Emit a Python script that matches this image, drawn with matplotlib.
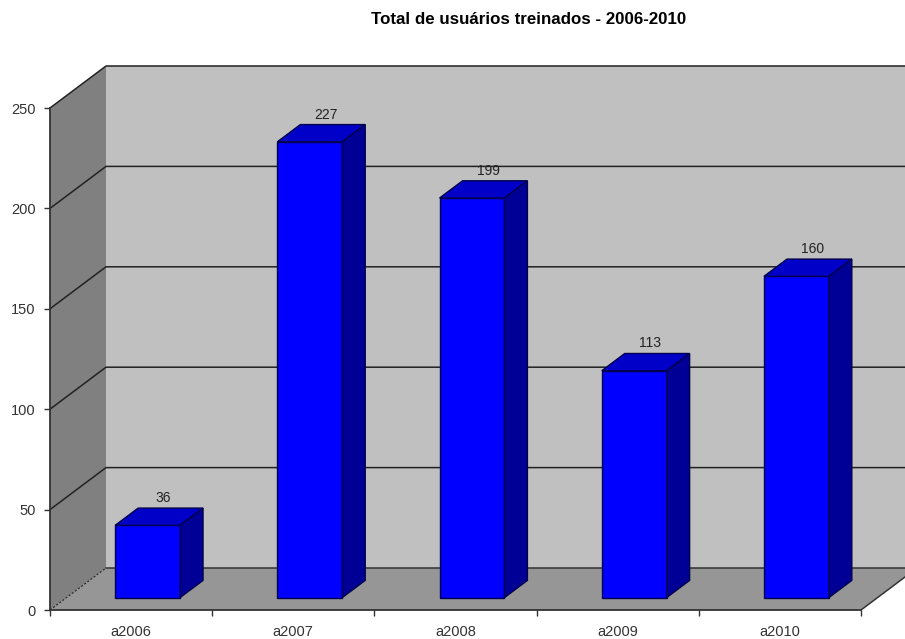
import matplotlib
matplotlib.use("Agg")
import matplotlib.pyplot as plt
from matplotlib.patches import Polygon

plt.rcParams['font.family'] = ['Liberation Sans', 'DejaVu Sans']

categories = ['a2006', 'a2007', 'a2008', 'a2009', 'a2010']
values = [36, 227, 199, 113, 160]
y_ticks = [0, 50, 100, 150, 200, 250]
title = 'Total de usuários treinados - 2006-2010'

W, H = 905, 639

# Front plane of the fake 3D box, in pixels
left, right, bottom, top = 50, 861, 610, 108

fig = plt.figure(figsize=(W / 100, H / 100), dpi=100, facecolor='white')
ax = fig.add_axes([left / W, 1 - bottom / H, (right - left) / W, (bottom - top) / H])
ax.set_xlim(0, len(categories))
ax.set_ylim(0, 250)
ax.patch.set_visible(False)

# One unit of depth shifts things by this much (data units)
depth_x = 56 / ((right - left) / len(categories))
depth_y = 42 / ((bottom - top) / 250)


def pt(x, y, d=0.0):
    return (x + d * depth_x, y + d * depth_y)


def face(points, color, edge='none', lw=0.0, z=1):
    ax.add_patch(Polygon(points, closed=True, facecolor=color, edgecolor=edge,
                         linewidth=lw, clip_on=False, zorder=z, joinstyle='miter'))


n = len(categories)
line_col = '#222222'

# Walls and floor
face([pt(0, 0, 1), pt(n, 0, 1), pt(n, 250, 1), pt(0, 250, 1)], '#C0C0C0', z=1)
face([pt(0, 0), pt(0, 0, 1), pt(0, 250, 1), pt(0, 250)], '#808080', z=1)
face([pt(0, 0), pt(n, 0), pt(n, 0, 1), pt(0, 0, 1)], '#969696', z=1)

# Gridlines across side wall and back wall
for t in y_ticks[1:]:
    xs, ys = zip(pt(0, t), pt(0, t, 1), pt(n, t, 1))
    ax.plot(xs, ys, color=line_col, lw=1.1, clip_on=False, zorder=2)

# Floor and box edges
xs, ys = zip(pt(0, 0, 1), pt(n, 0, 1), pt(n, 0))
ax.plot(xs, ys, color='#333333', lw=1.1, clip_on=False, zorder=2)
xs, ys = zip(pt(0, 0), pt(0, 0, 1))
ax.plot(xs, ys, color=line_col, lw=0.8, ls=(0, (2, 1.5)), clip_on=False, zorder=2)

# Bars
bar_w = 0.4
d0, d1 = 0.295, 0.705
for i, v in enumerate(values):
    x0 = i + 0.5 - bar_w / 2
    x1 = x0 + bar_w
    e = '#00004D'
    face([pt(x0, 0, d0), pt(x1, 0, d0), pt(x1, v, d0), pt(x0, v, d0)], '#0000FF', e, 1.0, 3)
    face([pt(x0, v, d0), pt(x1, v, d0), pt(x1, v, d1), pt(x0, v, d1)], '#0000C8', e, 1.0, 3)
    face([pt(x1, 0, d0), pt(x1, 0, d1), pt(x1, v, d1), pt(x1, v, d0)], '#000096', e, 1.0, 3)
    lx, ly = pt(i + 0.5, v, d1)
    ax.annotate(str(v), (lx, ly), xytext=(-7, 10), textcoords='offset pixels',
                ha='center', va='center', fontsize=10, color='#222222', zorder=4,
                annotation_clip=False)

# Axes
for s in ['top', 'right']:
    ax.spines[s].set_visible(False)
for s in ['left', 'bottom']:
    ax.spines[s].set_color('#333333')
    ax.spines[s].set_linewidth(1.3)
    ax.spines[s].set_zorder(5)

ax.set_yticks(y_ticks)
ax.tick_params(axis='y', length=4, width=1, color='#333333', labelcolor='#333333',
               labelsize=10.5, pad=6.5)
ax.set_xticks(range(n + 1))
ax.set_xticklabels([])
ax.tick_params(axis='x', length=4, width=1, color='#333333')
ax.set_xticks([i + 0.5 for i in range(n)], minor=True)
ax.set_xticklabels(categories, minor=True)
ax.tick_params(axis='x', which='minor', length=0, labelcolor='#333333', labelsize=10.5, pad=11)

fig.text(529 / W, 1 - 20 / H, title, ha='center', va='center', fontsize=12.2,
         fontweight='bold', color='black')

fig.savefig('out.png', dpi=100)
